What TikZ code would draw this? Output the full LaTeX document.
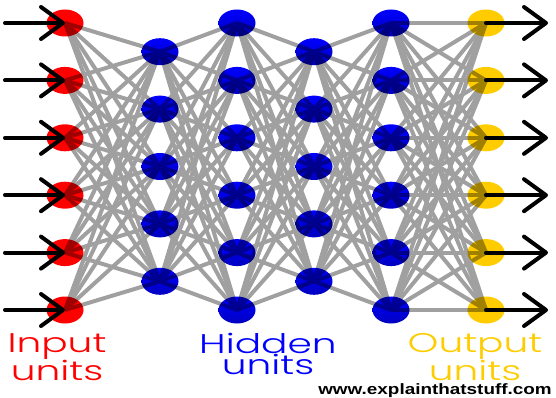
\documentclass[tikz,border=0pt]{standalone}
\usepackage{fontspec}
\newfontfamily\labelfont{Poppins Light}
\newfontfamily\urlfont{Liberation Sans}
\usetikzlibrary{shapes.geometric,arrows.meta,backgrounds}
\definecolor{unitred}{RGB}{255,0,0}
\definecolor{unitblue}{RGB}{0,0,255}
\definecolor{unityellow}{RGB}{255,204,0}
\definecolor{linkgray}{RGB}{160,160,160}
\newcommand{\widetext}[2][1.45]{\scalebox{#1}[1]{#2}}

\begin{document}
\begin{tikzpicture}[x=1pt, y=-1pt,
  unit/.style={ellipse, minimum width=37pt, minimum height=27pt,
               inner sep=0pt, blend mode=multiply},
  hidden/.style={unit, top color=unitblue, bottom color=unitblue!75!black},
  link/.style={draw=linkgray, line width=4pt},
  flow/.style={line width=4pt, line cap=round,
               -{Straight Barb[length=22pt, width=32pt, round]}},
  layerlabel/.style={align=center, anchor=north, inner sep=0pt,
                     font=\labelfont\fontsize{27}{21}\selectfont}
]
\useasboundingbox (0,0) rectangle (556,398);

% Units of the six layers
\foreach \i in {1,...,6} {
  \node[unit, fill=unitred]    (in\i)  at (65,  {23+57.4*(\i-1)}) {};
  \node[hidden]                (hb\i)  at (237, {23+57.4*(\i-1)}) {};
  \node[hidden]                (hd\i)  at (391, {23+57.4*(\i-1)}) {};
  \node[unit, fill=unityellow] (out\i) at (486, {23+57.4*(\i-1)}) {};
}
\foreach \i in {1,...,5} {
  \node[hidden] (ha\i) at (160, {51.7+57.4*(\i-1)}) {};
  \node[hidden] (hc\i) at (314, {51.7+57.4*(\i-1)}) {};
}

% Connections between neighbouring layers
\begin{scope}[on background layer]
  \foreach \a in {1,...,6} \foreach \b in {1,...,5} {
    \draw[link] (in\a.center) -- (ha\b.center);
    \draw[link] (hb\a.center) -- (ha\b.center);
    \draw[link] (hb\a.center) -- (hc\b.center);
    \draw[link] (hd\a.center) -- (hc\b.center);
  }
  \foreach \a in {1,...,6} \foreach \b in {1,...,6}
    \draw[link] (hd\a.center) -- (out\b.center);

  % Inputs in, outputs out
  \foreach \i in {1,...,6} {
    \coordinate (src\i) at (5,   {23+57.4*(\i-1)});
    \coordinate (dst\i) at (548, {23+57.4*(\i-1)});
    \draw[flow] (src\i) -- (in\i.center);
    \draw[flow] (out\i.center) -- (dst\i);
  }
\end{scope}

% Layer names
\node[layerlabel, text=unitred]    (inlabel)  at (57,333)  {\widetext{Input}\\\widetext{units}};
\node[layerlabel, text=unitblue]   (hidlabel) at (268,333) {\widetext{Hidden}\\\widetext{units}};
\node[layerlabel, text=unityellow] (outlabel) at (475,333) {\widetext{Output}\\\widetext{units}};

\node[anchor=base, inner sep=0pt, font=\urlfont\bfseries\fontsize{15}{18}\selectfont]
  (site) at (435,394) {\widetext[1.26]{www.explainthatstuff.com}};

\end{tikzpicture}
\end{document}
